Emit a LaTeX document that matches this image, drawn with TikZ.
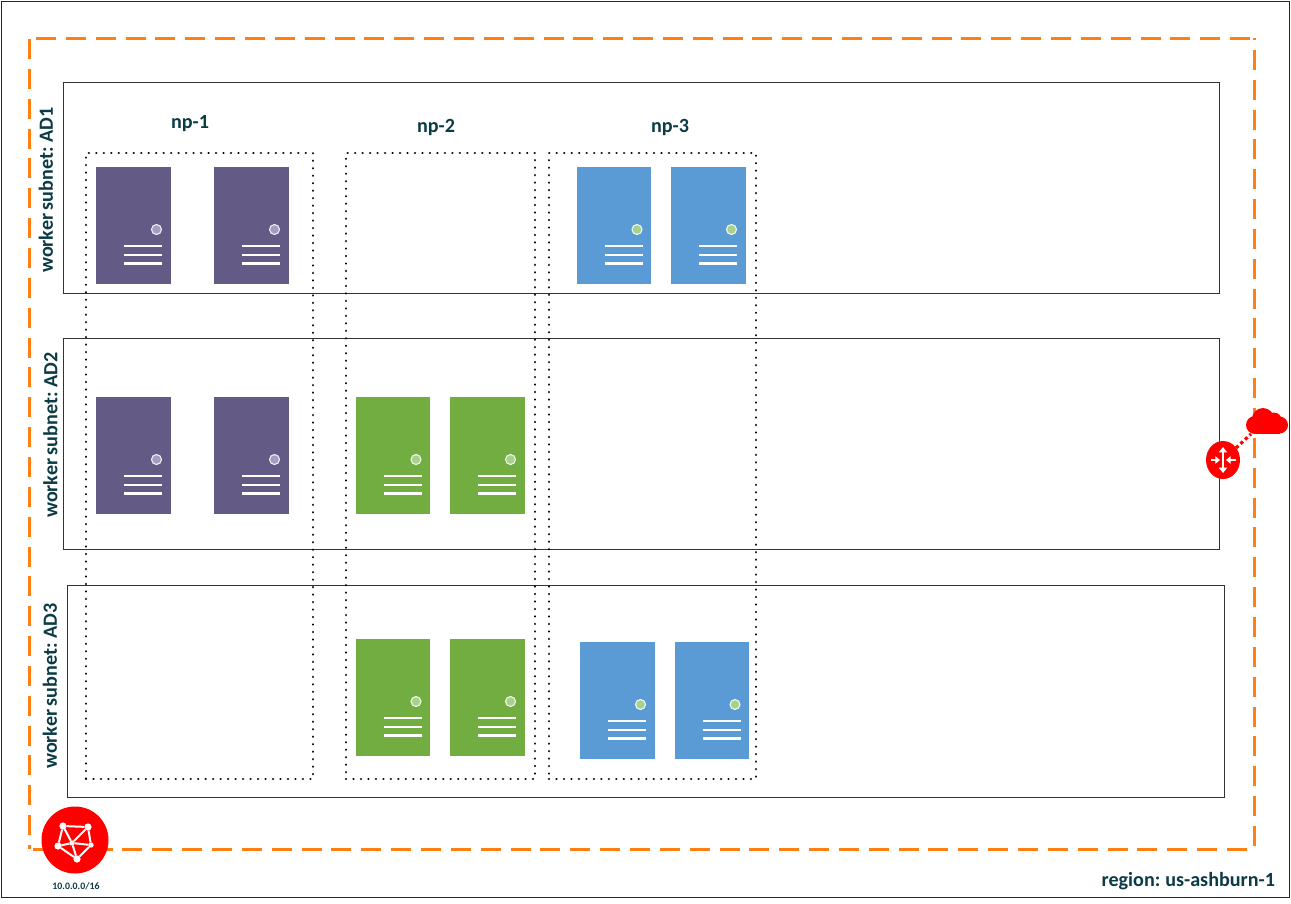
\documentclass[tikz,border=0pt]{standalone}
\usepackage{fontspec}
\setmainfont[WordSpace=0.75]{Carlito}
\usetikzlibrary{shapes.geometric,arrows.meta}
\definecolor{purp}{HTML}{635A85}
\definecolor{purpd}{HTML}{A49DC0}
\definecolor{grn}{HTML}{72AD41}
\definecolor{grnd}{HTML}{A9D18E}
\definecolor{blu}{HTML}{5B9BD5}
\definecolor{blud}{HTML}{A9D18E}
\definecolor{orng}{HTML}{FF7F10}
\definecolor{ink}{HTML}{0B3B44}
\tikzset{
  x=0.75pt,y=-0.75pt,
  every node/.style={outer sep=0},
  box/.style={draw=black!80,line width=0.6pt,fill=white,inner sep=0},
  npbox/.style={draw=black,line width=1.9pt,dash pattern=on 0.01pt off 5.6pt,line cap=round},
  lab/.style={font=\bfseries\fontsize{15.1}{16}\selectfont,text=ink,inner sep=0},
  vlab/.style={lab,rotate=90},
  srvbody/.style={inner sep=0,minimum width=55.9pt,minimum height=87.75pt,draw=none},
  barline/.style={draw=white,line width=1.7pt},
  rarrow/.style={draw=white,line width=1.2pt,{Triangle[length=4pt,width=6pt]}-{Triangle[length=4pt,width=6pt]}},
  harrow/.style={draw=white,line width=1.1pt,-{Triangle[length=3.5pt,width=5.5pt]}},
  mesh/.style={draw=white,line width=1.5pt},
  meshpt/.style={circle,fill=white,inner sep=0,minimum size=5.4pt},
  vcnside/.style={draw=orng,line width=2.25pt,dash pattern=on 15pt off 7.39pt},
}
% #1 name, #2 x (left), #3 y (top), #4 fill, #5 dot
\newcommand{\srv}[5]{%
  \node[srvbody,fill=#4,anchor=north west] (#1) at (#2,#3) {};
  \node[circle,fill=#5,draw=white!85!#5,line width=0.8pt,inner sep=0,minimum size=7.5pt] (#1d) at ([shift={(60.5,62.5)}]#1.north west) {};
  \draw[barline] ([shift={(28,79)}]#1.north west) -- ([shift={(66,79)}]#1.north west);
  \draw[barline] ([shift={(28,88)}]#1.north west) -- ([shift={(66,88)}]#1.north west);
  \draw[barline] ([shift={(28,96.5)}]#1.north west) -- ([shift={(66,96.5)}]#1.north west);
}
\begin{document}
\begin{tikzpicture}
\useasboundingbox (0,0) rectangle (1291,903);
\fill[white] (0,0) rectangle (1291,903);
\node[draw=ink!80!black,line width=0.6pt,inner sep=0,anchor=north west,minimum width=966pt,minimum height=672pt] (frame) at (1,1) {};
% region outline, each side dashed from its own corner
\node[inner sep=0,anchor=north west,minimum width=918.75pt,minimum height=608.25pt] (vcn) at (29,38) {};
\draw[vcnside] ([shift={(7,0)}]vcn.north west) -- (vcn.north east);
\draw[vcnside] ([shift={(0,1)}]vcn.north west) -- (vcn.south west);
\draw[vcnside] ([shift={(0,-3)}]vcn.south east) -- (vcn.north east);
\draw[vcnside] ([shift={(-7,0)}]vcn.south east) -- (vcn.south west);
% subnets
\node[box,anchor=north west,minimum width=867pt,minimum height=158.25pt] (ad1) at (63,82) {};
\node[box,anchor=north west,minimum width=867pt,minimum height=158.25pt] (ad2) at (63,338) {};
\node[box,anchor=north west,minimum width=867.75pt,minimum height=159pt] (ad3) at (67,585) {};
\node[vlab] (l1) at (46,190) {worker subnet: AD1};
\node[vlab] (l2) at (50.5,435) {worker subnet: AD2};
\node[vlab] (l3) at (50,686) {worker subnet: AD3};
% servers
\srv{a}{96}{167}{purp}{purpd}
\srv{b}{214}{167}{purp}{purpd}
\srv{c}{576.5}{167}{blu}{blud}
\srv{d}{671}{167}{blu}{blud}
\srv{e}{96}{397}{purp}{purpd}
\srv{f}{214}{397}{purp}{purpd}
\srv{g}{355.5}{397}{grn}{grnd}
\srv{h}{450}{397}{grn}{grnd}
\srv{i}{355.5}{639}{grn}{grnd}
\srv{j}{450}{639}{grn}{grnd}
\srv{k}{580}{642}{blu}{blud}
\srv{m}{674.5}{642}{blu}{blud}
% node pools
\node[npbox,inner sep=0,anchor=north west,minimum width=170.25pt,minimum height=469.5pt] (np1) at (86,153) {};
\node[npbox,inner sep=0,anchor=north west,minimum width=141.75pt,minimum height=469.5pt] (np2) at (346,153) {};
\node[npbox,inner sep=0,anchor=north west,minimum width=155.25pt,minimum height=469.5pt] (np3) at (549,153) {};
\node[lab] (n1) at (190,124) {np-1};
\node[lab] (n2) at (436,127) {np-2};
\node[lab] (n3) at (670,127) {np-3};
% router and cloud
\coordinate (cloud) at (1251,434);
\node[ellipse,fill=red,inner sep=0,minimum width=25.5pt,minimum height=28.5pt] (rt) at (1223,460) {};
\draw[draw=red,line width=2.4pt,dash pattern=on 2.4pt off 2.2pt] (rt) -- (cloud);
\fill[red] (1255,425) circle[radius=9];
\fill[red] (1279.5,425) circle[radius=8.5];
\fill[red] (1263,419) circle[radius=11];
\fill[red] (1274,420) circle[radius=7.5];
\fill[red] (1255,420) rectangle (1280,434);
\draw[rarrow] (1223,447) -- (1223,473);
\draw[harrow] (1211,460) -- (1220,460);
\draw[harrow] (1236,460) -- (1226,460);
% network icon
\node[circle,fill=red,inner sep=0,minimum size=50.25pt] (net) at (75,840) {};
\node[meshpt] (p1) at (63,826) {};
\node[meshpt] (p2) at (88,827) {};
\node[meshpt] (p3) at (58,846) {};
\node[meshpt,minimum size=4pt] (p4) at (72,843) {};
\node[meshpt,minimum size=4pt] (p5) at (91,845) {};
\node[meshpt] (p6) at (77,859) {};
\draw[mesh] (p1)--(p2) (p1)--(p3) (p1)--(p4) (p2)--(p4) (p2)--(p5) (p3)--(p4) (p3)--(p6) (p4)--(p6) (p4)--(p5) (p5)--(p6);
\node[font=\bfseries\fontsize{7.4}{8}\selectfont,text=ink,inner sep=0] (cidr) at (76,886) {10.0.0.0/16};
\node[lab,anchor=east] (reg) at (1275,881) {region: us-ashburn-1};
\end{tikzpicture}
\end{document}
